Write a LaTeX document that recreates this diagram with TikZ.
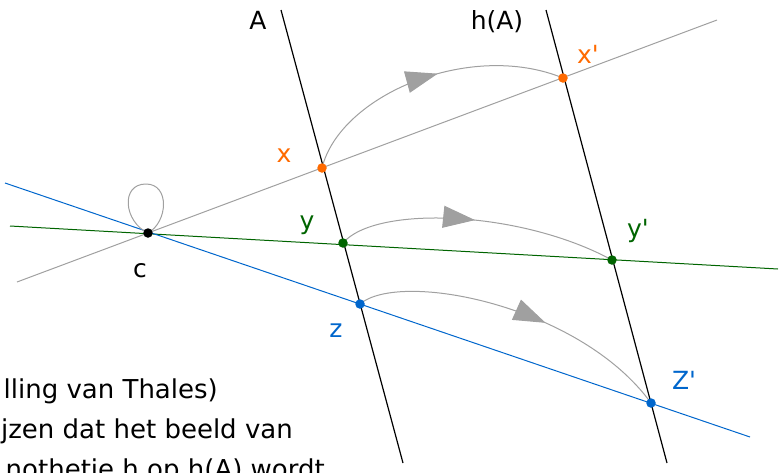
\documentclass[tikz,border=0pt]{standalone}
\usepackage{fontspec}
\newfontfamily\vfont{DejaVu Sans}
\usetikzlibrary{arrows.meta, decorations.markings}
\definecolor{homorange}{RGB}{255,106,0}
\definecolor{homgreen}{RGB}{0,100,0}
\definecolor{homblue}{RGB}{0,102,204}
\definecolor{homgray}{RGB}{160,160,160}
\tikzset{
  hom line/.style={line width=1.2},
  hom ray/.style={homgray, line width=1},
  hom pt/.style={circle, inner sep=0, minimum size=9.5},
  hom map/.style={homgray, line width=1,
    decoration={markings, mark=at position #1 with {\arrow{Triangle[length=32,width=22]}}},
    postaction={decorate}},
  lbl/.style={font=\vfont\fontsize{25}{30}\selectfont, inner sep=0, anchor=base},
  lbl txt/.style={font=\vfont\fontsize{26}{30}\selectfont, inner sep=0, anchor=base east}
}

\begin{document}
\begin{tikzpicture}[x=1pt, y=-1pt]
\useasboundingbox (0,0) rectangle (779,472);
\clip (0,0) rectangle (779,472);

% points
\coordinate (c) at (148,233);
\coordinate (x) at (322,168);
\coordinate (y) at (343,243);
\coordinate (z) at (360,304);
\coordinate (xp) at (563,78);
\coordinate (yp) at (612,260);
\coordinate (zp) at (651,403);
\coordinate (ctop) at (146,184);

% line ends
\coordinate (a1) at (281,10);
\coordinate (a2) at (403,463);
\coordinate (h1) at (546,10);
\coordinate (h2) at (667,463);
\coordinate (g1) at (17,282);
\coordinate (g2) at (717,20);
\coordinate (k1) at (10,226);
\coordinate (k2) at (778,269);
\coordinate (b1) at (5,183);
\coordinate (b2) at (750,437);

\draw[hom ray] (g1) -- (g2);
\draw[homgreen, line width=1] (k1) -- (k2);
\draw[homblue, line width=1] (b1) -- (b2);
\draw[hom line] (a1) -- (a2);
\draw[hom line] (h1) -- (h2);

% maps
\draw[homgray, line width=1] (c) .. controls (124,222) and (120,184) .. (ctop)
  .. controls (170,184) and (168,222) .. (c);
\draw[hom map=0.55] (x) .. controls (340,95) and (470,40) .. (xp);
\draw[hom map=0.49] (y) .. controls (375,205) and (520,210) .. (yp);
\draw[hom map=0.59] (z) .. controls (400,270) and (580,305) .. (zp);

\node[hom pt, fill=black] (nc) at (c) {};
\node[hom pt, fill=homorange] (nx) at (x) {};
\node[hom pt, fill=homorange] (nxp) at (xp) {};
\node[hom pt, fill=homgreen] (ny) at (y) {};
\node[hom pt, fill=homgreen] (nyp) at (yp) {};
\node[hom pt, fill=homblue] (nz) at (z) {};
\node[hom pt, fill=homblue] (nzp) at (zp) {};

% labels
\node[lbl] (lA) at (258,29) {A};
\node[lbl] (lhA) at (497,29) {h(A)};
\node[lbl, text=homorange] (lx) at (284,162) {x};
\node[lbl, text=homorange] (lxp) at (588,63) {x'};
\node[lbl, text=homgreen] (ly) at (307,229) {y};
\node[lbl, text=homgreen] (lyp) at (638,237) {y'};
\node[lbl] (lc) at (140,277) {c};
\node[lbl, text=homblue] (lz) at (336,337) {z};
\node[lbl, text=homblue] (lzp) at (684,389) {Z'};

\node[lbl txt] (t1) at (218,398) {lling van Thales)};
\node[lbl txt] (t2) at (293,438) {jzen dat het beeld van};
\node[lbl txt] (t3) at (325,478) {nothetie h op h(A) wordt};
\end{tikzpicture}
\end{document}
